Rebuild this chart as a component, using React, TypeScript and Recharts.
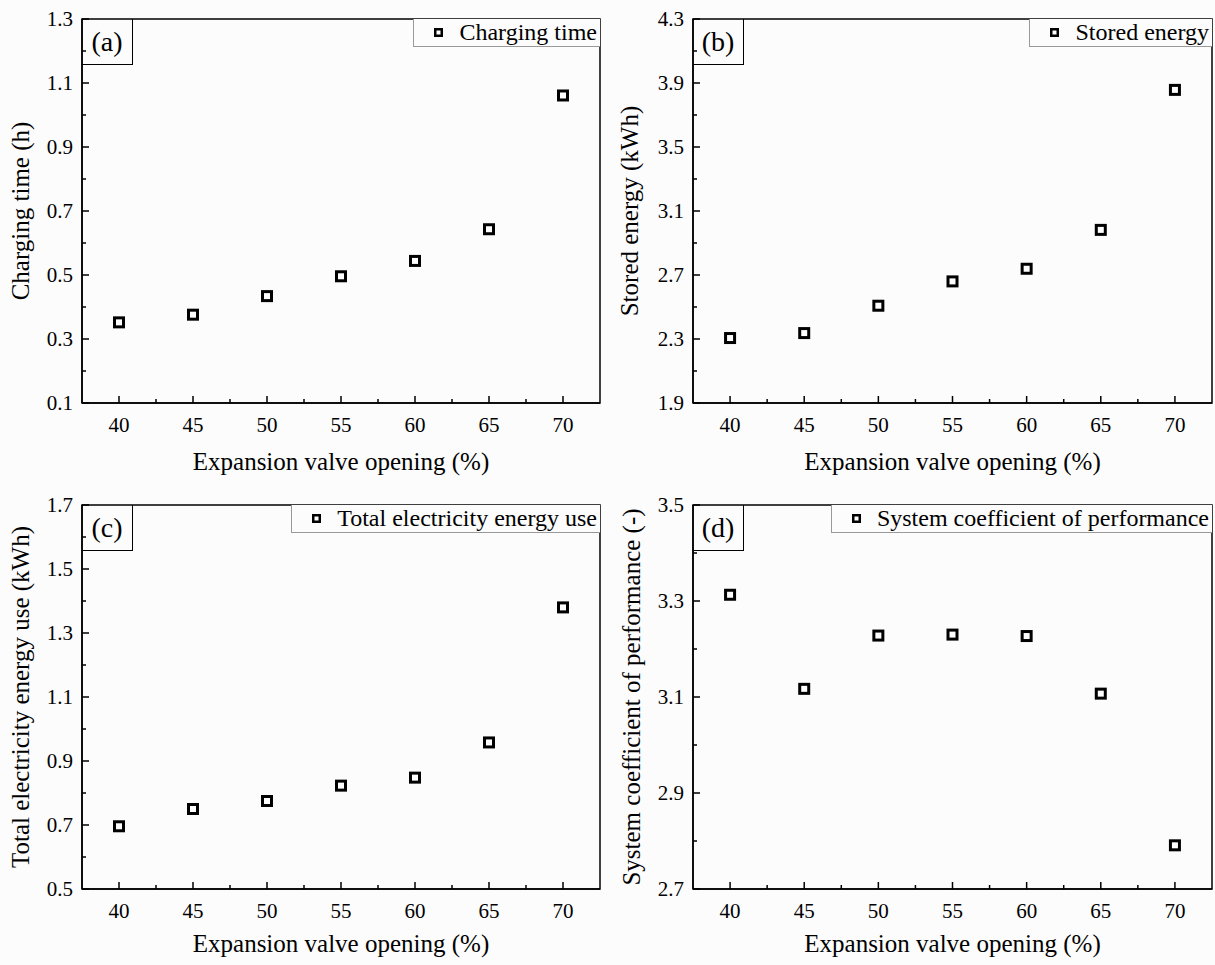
import React from "react";
import { ScatterChart, Scatter, XAxis, YAxis, ReferenceArea, Legend } from "recharts";

const FONT = '"Liberation Serif", "Times New Roman", serif';

// expansion valve opening (%)
const valveOpening = [40, 45, 50, 55, 60, 65, 70];
const xTicks = [40, 42.5, 45, 47.5, 50, 52.5, 55, 57.5, 60, 62.5, 65, 67.5, 70];

const chargingTime = [0.352, 0.376, 0.434, 0.496, 0.544, 0.643, 1.061];
const storedEnergy = [2.306, 2.337, 2.508, 2.66, 2.739, 2.982, 3.857];
const electricityUse = [0.696, 0.75, 0.775, 0.823, 0.848, 0.958, 1.38];
const systemCop = [3.313, 3.117, 3.228, 3.23, 3.227, 3.107, 2.791];

const ticksA = [0.1, 0.2, 0.3, 0.4, 0.5, 0.6, 0.7, 0.8, 0.9, 1.0, 1.1, 1.2, 1.3];
const ticksB = [1.9, 2.1, 2.3, 2.5, 2.7, 2.9, 3.1, 3.3, 3.5, 3.7, 3.9, 4.1, 4.3];
const ticksC = [0.5, 0.6, 0.7, 0.8, 0.9, 1.0, 1.1, 1.2, 1.3, 1.4, 1.5, 1.6, 1.7];
const ticksD = [2.7, 2.8, 2.9, 3.0, 3.1, 3.2, 3.3, 3.4, 3.5];

const XTick = (props: any) => {
  const { x, y, payload, index } = props;
  const major = index % 2 === 0;
  return (
    <g>
      <line x1={x} y1={y} x2={x} y2={y - (major ? 7 : 4)} stroke="#000" strokeWidth={1.5} />
      {major && (
        <text x={x} y={y + 29} textAnchor="middle" fontSize={21} fontFamily={FONT} fill="#000">
          {payload.value}
        </text>
      )}
    </g>
  );
};

const YTick = (props: any) => {
  const { x, y, payload, index } = props;
  const major = index % 2 === 0;
  return (
    <g>
      <line x1={x} y1={y} x2={x + (major ? 7 : 4)} y2={y} stroke="#000" strokeWidth={1.5} />
      {major && (
        <text x={x - 9} y={y + 7} textAnchor="end" fontSize={21} fontFamily={FONT} fill="#000">
          {Number(payload.value).toFixed(1)}
        </text>
      )}
    </g>
  );
};

const Marker = (props: any) => {
  const { cx, cy } = props;
  return <rect x={cx - 4.5} y={cy - 4.5} width={9} height={9} fill="#fff" stroke="#000" strokeWidth={3} />;
};

const LegendBox = ({ label }: { label: string }) => (
  <div
    style={{
      display: "flex",
      alignItems: "center",
      height: 27,
      paddingLeft: 20,
      paddingRight: 3,
      borderLeft: "1px solid #999",
      borderBottom: "1px solid #999",
      background: "#fcfcfc",
      fontFamily: FONT,
      fontSize: 24,
      color: "#000",
      whiteSpace: "nowrap",
    }}
  >
    <svg width={9} height={9} style={{ marginRight: 16 }}>
      <rect x={1.25} y={1.25} width={6.5} height={6.5} fill="#fff" stroke="#000" strokeWidth={2.5} />
    </svg>
    {label}
  </div>
);

interface PanelProps {
  letter: string;
  legend: string;
  yLabel: string;
  values: number[];
  yTicks: number[];
  left: number;
  top: number;
  width: number;
  height: number;
  yAxisWidth: number;
  marginRight: number;
  yLabelOffset: number;
  xLabelOffset: number;
}

const Panel = ({
  letter,
  legend,
  yLabel,
  values,
  yTicks,
  left,
  top,
  width,
  height,
  yAxisWidth,
  marginRight,
  yLabelOffset,
  xLabelOffset,
}: PanelProps) => {
  const data = valveOpening.map((x, i) => ({ x, y: values[i] }));
  const yMin = yTicks[0];
  const yMax = yTicks[yTicks.length - 1];
  const xAxisHeight = height - 19 - 384;
  return (
    <div style={{ position: "absolute", left, top, width, height }}>
      <ScatterChart width={width} height={height} margin={{ top: 19, right: marginRight, bottom: 0, left: 0 }}>
        <XAxis
          type="number"
          dataKey="x"
          domain={[37.5, 72.5]}
          ticks={xTicks}
          interval={0}
          tick={<XTick />}
          tickSize={0}
          tickMargin={0}
          tickLine={false}
          height={xAxisHeight}
          axisLine={{ stroke: "#000", strokeWidth: 1.5 }}
          label={{
            value: "Expansion valve opening (%)",
            position: "insideBottom",
            offset: xLabelOffset,
            style: { fontFamily: FONT, fontSize: 25, fill: "#000" },
          }}
        />
        <YAxis
          type="number"
          dataKey="y"
          domain={[yMin, yMax]}
          ticks={yTicks}
          interval={0}
          tick={<YTick />}
          tickSize={0}
          tickMargin={0}
          tickLine={false}
          width={yAxisWidth}
          axisLine={{ stroke: "#000", strokeWidth: 1.5 }}
          label={{
            value: yLabel,
            angle: -90,
            position: "insideLeft",
            offset: yLabelOffset,
            style: { fontFamily: FONT, fontSize: 25, fill: "#000", textAnchor: "middle" },
          }}
        />
        <ReferenceArea x1={37.5} x2={72.5} y1={yMin} y2={yMax} fill="none" stroke="#000" strokeWidth={1.5} />
        <Legend
          layout="horizontal"
          verticalAlign="middle"
          align="center"
          wrapperStyle={{ top: 19, right: marginRight, left: "auto", width: "auto", height: "auto" }}
          content={() => <LegendBox label={legend} />}
        />
        <Scatter name={legend} data={data} shape={<Marker />} isAnimationActive={false} />
      </ScatterChart>
      <div
        style={{
          position: "absolute",
          left: yAxisWidth,
          top: 19,
          width: 51,
          height: 46,
          boxSizing: "border-box",
          border: "1px solid #000",
          borderTop: "none",
          borderLeft: "none",
          fontFamily: FONT,
          fontSize: 28,
          lineHeight: "46px",
          textAlign: "center",
          color: "#000",
        }}
      >
        ({letter})
      </div>
    </div>
  );
};

export default function App() {
  return (
    <div style={{ position: "absolute", left: 0, top: 0, width: 1215, height: 965, background: "#fcfcfc" }}>
      <Panel
        letter="a"
        legend="Charging time"
        yLabel="Charging time (h)"
        values={chargingTime}
        yTicks={ticksA}
        left={0}
        top={0}
        width={607}
        height={480}
        yAxisWidth={82}
        marginRight={7}
        yLabelOffset={20}
        xLabelOffset={10}
      />
      <Panel
        letter="b"
        legend="Stored energy"
        yLabel="Stored energy (kWh)"
        values={storedEnergy}
        yTicks={ticksB}
        left={607}
        top={0}
        width={608}
        height={480}
        yAxisWidth={86}
        marginRight={3}
        yLabelOffset={22}
        xLabelOffset={10}
      />
      <Panel
        letter="c"
        legend="Total electricity energy use"
        yLabel="Total electricity energy use (kWh)"
        values={electricityUse}
        yTicks={ticksC}
        left={0}
        top={486}
        width={607}
        height={479}
        yAxisWidth={82}
        marginRight={7}
        yLabelOffset={20}
        xLabelOffset={13}
      />
      <Panel
        letter="d"
        legend="System coefficient of performance"
        yLabel="System coefficient of performance (-)"
        values={systemCop}
        yTicks={ticksD}
        left={607}
        top={486}
        width={608}
        height={479}
        yAxisWidth={86}
        marginRight={3}
        yLabelOffset={24}
        xLabelOffset={13}
      />
    </div>
  );
}
